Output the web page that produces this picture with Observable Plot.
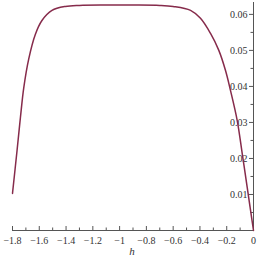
<!DOCTYPE html>
<html>
<head>
<meta charset="utf-8">
<script src="https://cdn.jsdelivr.net/npm/d3@7"></script>
<script src="https://cdn.jsdelivr.net/npm/@observablehq/plot@0.6"></script>
<style>
  html, body { margin: 0; padding: 0; background: #fff; }
</style>
</head>
<body>
<div id="chart"></div>
<script>
const hValues = [-1.8, -1.766, -1.741, -1.716, -1.679, -1.629, -1.58, -1.505, -1.405, -1.3, -1.1, -0.9, -0.7, -0.6, -0.47, -0.396, -0.321, -0.259, -0.209, -0.172, -0.122, -0.084, -0.047, -0.022, 0];
const yValues = [0.0103, 0.0222, 0.0313, 0.0396, 0.0476, 0.0545, 0.0583, 0.0611, 0.0622, 0.0625, 0.0626, 0.0626, 0.0625, 0.0622, 0.0611, 0.0589, 0.0547, 0.050, 0.0444, 0.0389, 0.0306, 0.0213, 0.012, 0.0056, 0];
const xMajorTicks = [-1.8, -1.6, -1.4, -1.2, -1, -0.8, -0.6, -0.4, -0.2, 0];
const xMinorTicks = [-1.7, -1.5, -1.3, -1.1, -0.9, -0.7, -0.5, -0.3, -0.1];
const yMajorTicks = [0.01, 0.02, 0.03, 0.04, 0.05, 0.06];
const yMinorTicks = [0.005, 0.015, 0.025, 0.035, 0.045, 0.055];
const xLabel = "h";

const data = hValues.map((h, i) => ({h, v: yValues[i]}));
const fmtX = d => d === 0 ? "0" : "\u2212" + String(Math.abs(d));
const font = "Liberation Serif, Times New Roman, serif";
const axisColor = "#555";

const chart = Plot.plot({
  width: 260,
  height: 260,
  marginLeft: 12,
  marginRight: 7,
  marginTop: 2,
  marginBottom: 30,
  style: {fontFamily: font, background: "#fff"},
  x: {domain: [-1.8, 0], axis: null},
  y: {domain: [0, 0.0633], axis: null},
  marks: [
    Plot.ruleY([0], {stroke: axisColor, strokeWidth: 1}),
    Plot.ruleX([0], {stroke: axisColor, strokeWidth: 1}),
    Plot.ruleX(xMajorTicks, {x: d => d, y1: 0, y2: 0, insetBottom: 4, stroke: axisColor}),
    Plot.ruleX(xMinorTicks, {x: d => d, y1: 0, y2: 0, insetBottom: 2.5, stroke: axisColor}),
    Plot.ruleY(yMajorTicks, {y: d => d, x1: 0, x2: 0, insetRight: 4, stroke: axisColor}),
    Plot.ruleY(yMinorTicks, {y: d => d, x1: 0, x2: 0, insetRight: 2.5, stroke: axisColor}),
    Plot.text(xMajorTicks, {x: d => d, y: 0, text: fmtX, dy: 10, lineAnchor: "middle", fontSize: 10, fill: "#333", fontFamily: font}),
    Plot.text(yMajorTicks, {x: 0, y: d => d, text: d => d.toFixed(2), dx: -6, textAnchor: "end", fontSize: 10, fill: "#333", fontFamily: font}),
    Plot.text([xLabel], {frameAnchor: "bottom", dx: -1, dy: 21, lineAnchor: "middle", fontSize: 11, fontStyle: "italic", fill: "#333", fontFamily: font}),
    Plot.line(data, {x: "h", y: "v", stroke: "#862b4b", strokeWidth: 1.5, curve: "catmull-rom"})
  ]
});
document.getElementById("chart").appendChild(chart);
</script>
</body>
</html>
